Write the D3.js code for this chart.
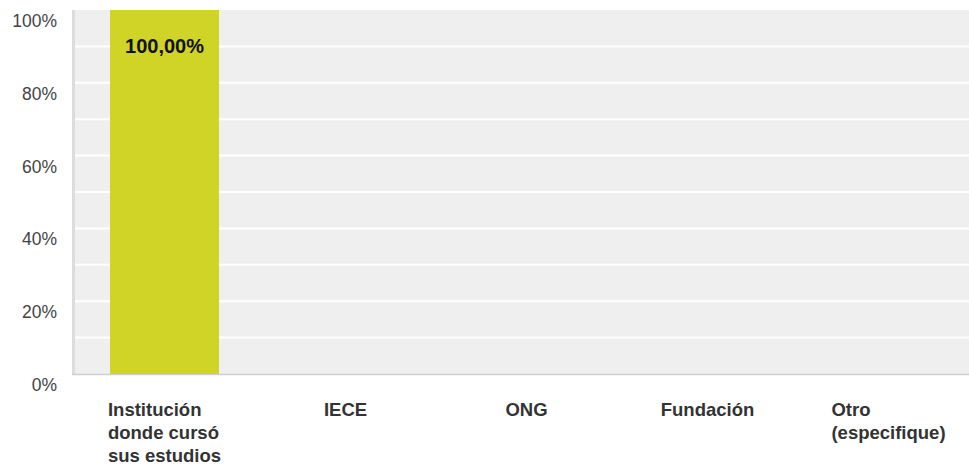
<!DOCTYPE html>
<html>
<head>
<meta charset="utf-8">
<script src="https://cdn.jsdelivr.net/npm/d3@7"></script>
<style>
  body { margin: 0; background: #fff; }
  svg { display: block; font-family: 'Liberation Sans', Arial, sans-serif; }
</style>
</head>
<body>
<div id="chart"></div>
<script>
const categories = [
  ['Institución', 'donde cursó', 'sus estudios'],
  ['IECE'],
  ['ONG'],
  ['Fundación'],
  ['Otro', '(especifique)']
]
const values = [100, 0, 0, 0, 0]
const valueLabels = ['100,00%', '', '', '', '']
const yTicks = [0, 20, 40, 60, 80, 100]
const gridTicks = [10, 20, 30, 40, 50, 60, 70, 80, 90]

const width = 969
const height = 466
const margin = { top: 10, left: 74, right: -10, bottom: 92 }

const svg = d3.select('#chart')
  .append('svg')
  .attr('width', width)
  .attr('height', height)

const x = d3.scaleBand()
  .domain(d3.range(categories.length))
  .range([margin.left, width - margin.right])
  .paddingInner(0)
  .paddingOuter(0)

const y = d3.scaleLinear()
  .domain([0, 100])
  .range([height - margin.bottom, margin.top])

// plot background
svg.append('rect')
  .attr('x', margin.left)
  .attr('y', y(100))
  .attr('width', width - margin.left)
  .attr('height', y(0) - y(100))
  .attr('fill', '#efefef')

// white gridlines
svg.append('g')
  .selectAll('line')
  .data(gridTicks)
  .enter()
  .append('line')
  .attr('x1', margin.left)
  .attr('x2', width)
  .attr('y1', d => y(d))
  .attr('y2', d => y(d))
  .attr('stroke', '#fff')
  .attr('stroke-width', 2)

// left border
svg.append('line')
  .attr('x1', margin.left - 0.5)
  .attr('x2', margin.left - 0.5)
  .attr('y1', y(100))
  .attr('y2', y(0) + 1)
  .attr('stroke', '#dcdcdc')
  .attr('stroke-width', 3)

// bottom border
svg.append('line')
  .attr('x1', margin.left - 2)
  .attr('x2', width)
  .attr('y1', y(0) + 0.5)
  .attr('y2', y(0) + 0.5)
  .attr('stroke', '#cfcfcf')
  .attr('stroke-width', 1.5)

// bars
const barWidth = 109
svg.append('g')
  .selectAll('rect')
  .data(values)
  .enter()
  .append('rect')
  .attr('x', (d, i) => x(i) + x.bandwidth() / 2 - barWidth / 2)
  .attr('y', d => y(d))
  .attr('width', barWidth)
  .attr('height', d => y(0) - y(d))
  .attr('fill', '#cfd426')

// value labels
svg.append('g')
  .selectAll('text')
  .data(values)
  .enter()
  .append('text')
  .attr('x', (d, i) => x(i) + x.bandwidth() / 2)
  .attr('y', d => y(d) + 43)
  .attr('text-anchor', 'middle')
  .attr('font-size', 20)
  .attr('font-weight', 'bold')
  .attr('fill', '#111')
  .text((d, i) => valueLabels[i])

// y tick labels
svg.append('g')
  .selectAll('text')
  .data(yTicks)
  .enter()
  .append('text')
  .attr('x', 57)
  .attr('y', d => y(d) + 17)
  .attr('text-anchor', 'end')
  .attr('font-size', 17.5)
  .attr('fill', '#444')
  .text(d => d + '%')

// x category labels: left aligned lines, block centred in band
const xLabels = svg.append('g')
  .selectAll('text')
  .data(categories)
  .enter()
  .append('text')
  .attr('font-size', 18.5)
  .attr('font-weight', 'bold')
  .attr('fill', '#333')

xLabels.each(function(lines, i) {
  const t = d3.select(this)
  lines.forEach((line, j) => {
    t.append('tspan')
      .attr('x', 0)
      .attr('y', 416 + j * 23)
      .text(line)
  })
  const w = this.getBBox().width
  t.attr('transform', `translate(${x(i) + x.bandwidth() / 2 - w / 2},0)`)
})
</script>
</body>
</html>
